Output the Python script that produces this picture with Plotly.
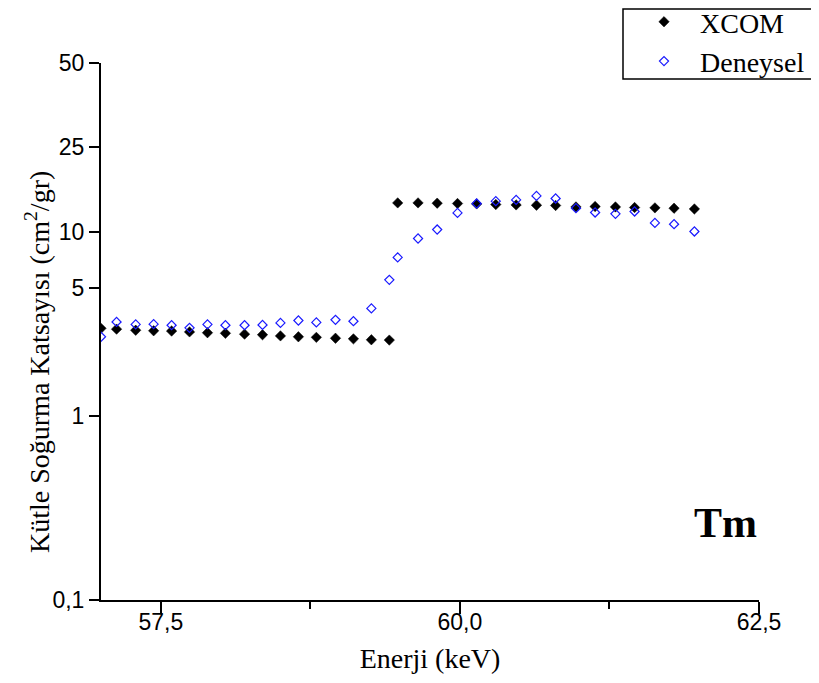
import plotly.graph_objects as go

# Energy (keV)
energy = [57.00, 57.13, 57.29, 57.44, 57.59, 57.74, 57.89, 58.04, 58.20, 58.35,
          58.50, 58.65, 58.80, 58.96, 59.11, 59.26, 59.41, 59.48, 59.65, 59.81,
          59.98, 60.14, 60.30, 60.47, 60.64, 60.80, 60.97, 61.13, 61.30, 61.46,
          61.63, 61.79, 61.96]

# Mass attenuation coefficient (cm2/gr)
xcom = [3.00, 2.97, 2.93, 2.91, 2.90, 2.87, 2.84, 2.82, 2.79, 2.77,
        2.73, 2.70, 2.68, 2.65, 2.63, 2.60, 2.59, 14.43, 14.43, 14.38,
        14.32, 14.25, 14.14, 14.07, 14.02, 13.97, 13.72, 13.79, 13.72, 13.62,
        13.56, 13.50, 13.38]

deneysel = [2.70, 3.25, 3.15, 3.16, 3.12, 3.02, 3.15, 3.12, 3.12, 3.13,
            3.21, 3.31, 3.23, 3.34, 3.28, 3.85, 5.51, 7.29, 9.24, 10.34,
            12.73, 14.32, 14.74, 14.98, 15.75, 15.25, 13.50, 12.80, 12.58, 12.96,
            11.23, 11.05, 10.09]

y_tick_text = ["0,1", "1", "5", "10", "25", "50"]
y_tick_pos = [0.1, 1, 5, 10, 28.97, 83.2]

serif = "Liberation Serif, Times New Roman, serif"
sans = "Liberation Sans, Arial, sans-serif"

# page offset of the plotly div (browser default body margin)
OFF = 8
W, H = 819, 683
L, T, R, B = 101 - OFF, 63 - OFF, W - 759 + OFF, H - 600 + OFF

fig = go.Figure()
fig.add_trace(go.Scatter(
    x=energy, y=xcom, mode="markers", name="XCOM", legendgroup="a",
    marker=dict(symbol="diamond", size=8, color="black",
                line=dict(width=0.5, color="black")),
))
fig.add_trace(go.Scatter(
    x=energy, y=deneysel, mode="markers", name="Deneysel", legendgroup="b",
    marker=dict(symbol="diamond-open", size=7, color="#1a1aff",
                line=dict(width=1.2, color="#1a1aff")),
))

fig.update_layout(
    width=W, height=H,
    margin=dict(l=L, r=R, t=T, b=B, autoexpand=False),
    paper_bgcolor="white", plot_bgcolor="white",
    separators=",.",
    showlegend=True,
    legend=dict(xref="paper", yref="paper",
                x=(628 - 101) / 658, y=(600 + 3) / 537,
                xanchor="left", yanchor="top",
                bgcolor="rgba(0,0,0,0)", borderwidth=0,
                font=dict(family=serif, size=28, color="black"),
                itemwidth=62, tracegroupgap=0),
    xaxis=dict(
        range=[57.0, 62.5], tick0=57.5, dtick=2.5, tickformat=".1f",
        showgrid=False, zeroline=False, automargin=False,
        showline=True, linecolor="black", linewidth=2,
        ticks="outside", ticklen=12, tickwidth=2, tickcolor="black",
        ticklabelstandoff=-12,
        tickfont=dict(family=sans, size=23, color="black"),
        minor=dict(ticks="outside", ticklen=7, tickwidth=2, tickcolor="black",
                   dtick=1.25, tick0=57.5),
        title=dict(text="Enerji (keV)", standoff=15,
                   font=dict(family=serif, size=28, color="black")),
    ),
    yaxis=dict(
        type="log", range=[-1, 1.920],
        tickvals=y_tick_pos, ticktext=y_tick_text,
        showgrid=False, zeroline=False, automargin=False,
        showline=True, linecolor="black", linewidth=2,
        ticks="outside", ticklen=10, tickwidth=2, tickcolor="black",
        tickfont=dict(family=sans, size=23, color="black"),
    ),
    shapes=[dict(type="rect", xref="paper", yref="paper",
                 x0=(623 - 101) / 658, x1=(813 - 101) / 658,
                 y0=(600 - 79) / 537, y1=(600 - 9) / 537,
                 line=dict(color="black", width=1.5))],
    annotations=[
        dict(text="<b>Tm</b>", xref="paper", yref="paper",
             x=(725 - 101) / 658, y=(600 - 523) / 537,
             xanchor="center", yanchor="middle", showarrow=False,
             font=dict(family=serif, size=42, color="black")),
        dict(text="Kütle Soğurma Katsayısı (cm<sup>2</sup>/gr)",
             xref="paper", yref="paper", textangle=-90,
             x=(37 - 101) / 658, y=(600 - 362) / 537,
             xanchor="center", yanchor="middle", showarrow=False,
             font=dict(family=serif, size=28, color="black")),
    ],
)

fig.write_html("out.html")
